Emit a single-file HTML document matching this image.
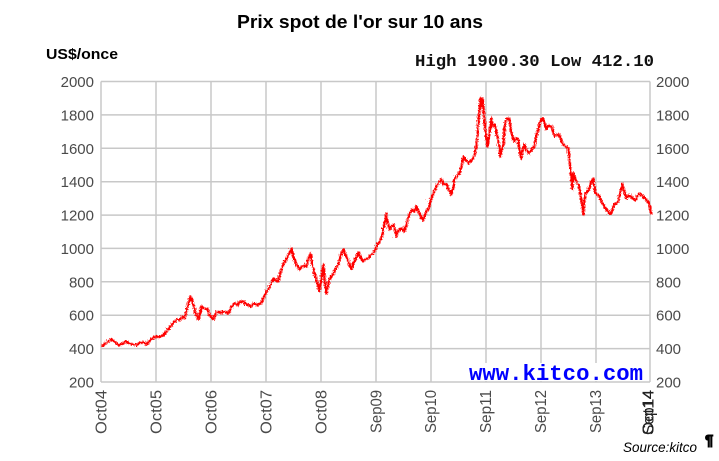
<!DOCTYPE html>
<html><head><meta charset="utf-8"><style>
html,body{margin:0;padding:0;background:#fff;}
svg{display:block;}
</style></head><body>
<svg width="719" height="461" viewBox="0 0 719 461" xmlns="http://www.w3.org/2000/svg">
<defs>
<filter id="jit" x="-5%" y="-10%" width="110%" height="120%">
<feTurbulence type="turbulence" baseFrequency="0.9 0.4" numOctaves="1" seed="3" result="n"/>
<feDisplacementMap in="SourceGraphic" in2="n" scale="4" xChannelSelector="R" yChannelSelector="G"/>
</filter>
</defs>
<rect width="719" height="461" fill="#fff"/>
<text x="237" y="28" font-family="Liberation Sans, Arial, sans-serif" font-weight="bold" font-size="18" textLength="246" lengthAdjust="spacingAndGlyphs" fill="#000">Prix spot de l'or sur 10 ans</text>
<text x="46" y="59" font-family="Liberation Sans, Arial, sans-serif" font-weight="bold" font-size="15" textLength="72" lengthAdjust="spacingAndGlyphs" fill="#000">US$/once</text>
<text x="415" y="66" font-family="Liberation Mono, monospace" font-weight="bold" font-size="17" textLength="239" lengthAdjust="spacingAndGlyphs" fill="#111">High 1900.30 Low 412.10</text>
<g stroke="#c8c8c8" stroke-width="1.5" fill="none">
<line x1="101" y1="81.5" x2="650" y2="81.5"/>
<line x1="101" y1="114.9" x2="650" y2="114.9"/>
<line x1="101" y1="148.3" x2="650" y2="148.3"/>
<line x1="101" y1="181.7" x2="650" y2="181.7"/>
<line x1="101" y1="215.1" x2="650" y2="215.1"/>
<line x1="101" y1="248.4" x2="650" y2="248.4"/>
<line x1="101" y1="281.8" x2="650" y2="281.8"/>
<line x1="101" y1="315.2" x2="650" y2="315.2"/>
<line x1="101" y1="348.6" x2="650" y2="348.6"/>
<line x1="101" y1="382" x2="650" y2="382"/>
<line x1="101" y1="81.5" x2="101" y2="382"/>
<line x1="156" y1="81.5" x2="156" y2="382"/>
<line x1="211" y1="81.5" x2="211" y2="382"/>
<line x1="266" y1="81.5" x2="266" y2="382"/>
<line x1="321" y1="81.5" x2="321" y2="382"/>
<line x1="376" y1="81.5" x2="376" y2="382"/>
<line x1="431" y1="81.5" x2="431" y2="382"/>
<line x1="486" y1="81.5" x2="486" y2="382"/>
<line x1="541" y1="81.5" x2="541" y2="382"/>
<line x1="596" y1="81.5" x2="596" y2="382"/>
<line x1="650" y1="81.5" x2="650" y2="382"/>
</g>
<g font-family="Liberation Sans, Arial, sans-serif" font-size="15" fill="#4a4a4a">
<g text-anchor="end">
<text x="94" y="87">2000</text>
<text x="94" y="120.4">1800</text>
<text x="94" y="153.8">1600</text>
<text x="94" y="187.2">1400</text>
<text x="94" y="220.6">1200</text>
<text x="94" y="253.9">1000</text>
<text x="94" y="287.3">800</text>
<text x="94" y="320.7">600</text>
<text x="94" y="354.1">400</text>
<text x="94" y="387.5">200</text>
</g>
<text x="656" y="87">2000</text>
<text x="656" y="120.4">1800</text>
<text x="656" y="153.8">1600</text>
<text x="656" y="187.2">1400</text>
<text x="656" y="220.6">1200</text>
<text x="656" y="253.9">1000</text>
<text x="656" y="287.3">800</text>
<text x="656" y="320.7">600</text>
<text x="656" y="354.1">400</text>
<text x="656" y="387.5">200</text>
</g>
<g font-family="Liberation Sans, Arial, sans-serif" font-size="16" fill="#4a4a4a" text-anchor="end">
<text transform="translate(106.5,390) rotate(-90)" textLength="44" lengthAdjust="spacingAndGlyphs">Oct04</text>
<text transform="translate(161.5,390) rotate(-90)" textLength="44" lengthAdjust="spacingAndGlyphs">Oct05</text>
<text transform="translate(216.5,390) rotate(-90)" textLength="44" lengthAdjust="spacingAndGlyphs">Oct06</text>
<text transform="translate(271.5,390) rotate(-90)" textLength="44" lengthAdjust="spacingAndGlyphs">Oct07</text>
<text transform="translate(326.5,390) rotate(-90)" textLength="44" lengthAdjust="spacingAndGlyphs">Oct08</text>
<text transform="translate(381.5,390) rotate(-90)" textLength="43" lengthAdjust="spacingAndGlyphs">Sep09</text>
<text transform="translate(436,390) rotate(-90)" textLength="43" lengthAdjust="spacingAndGlyphs">Sep10</text>
<text transform="translate(491,390) rotate(-90)" textLength="43" lengthAdjust="spacingAndGlyphs">Sep11</text>
<text transform="translate(546,390) rotate(-90)" textLength="43" lengthAdjust="spacingAndGlyphs">Sep12</text>
<text transform="translate(601,390) rotate(-90)" textLength="43" lengthAdjust="spacingAndGlyphs">Sep13</text>
<text transform="translate(653.5,390) rotate(-90)" textLength="45" lengthAdjust="spacingAndGlyphs" fill="#222">Oct14</text>
<text transform="translate(653.5,390) rotate(-90)" textLength="45" lengthAdjust="spacingAndGlyphs" fill="#222">Sep14</text>
</g>
<g filter="url(#jit)">
<polyline fill="none" stroke="#ff0000" stroke-width="2.4" stroke-linejoin="round" points="
100,345 103,343 106,341 110,338 113,340 116,343 118,344 121,342 125,340 128,342 131,343 135,344 138,341 142,341 145,343 148,340 150,338 153,336 156,335 158,336 161,334 163,333 165,330 167,328 170,324 172,321 174,320 176,318 178,319 181,316 183,317 185,310 187,303 189,295 191,300 193,307 195,314 197,318 199,310 200,305 203,307 206,308 208,313 210,316 212,318 214,313 217,310 220,312 223,310 227,312 230,306 233,302 236,304 238,301 242,300 245,303 248,304 250,305 253,302 256,304 258,303 260,302
263,294 267,288 270,282 272,277 275,279 277,280 279,272 282,263 285,258 288,252 290,247 292,255 295,263 298,268 301,265 305,265 307,258 309,252 311,263 313,272 315,278 317,285 318,290 320,278 322,263 323,275 325,292 327,285 328,278 330,275 332,273 334,268 337,263 339,255 342,248 344,253 347,260 350,268 352,262 355,255 357,251 359,256 362,260 364,258 367,257 369,254 372,252 374,248 375,245 378,240 380,237 382,228 384,218 385,212 386,220 388,228 390,225 392,223 394,230 395,235 397,230 400,227 403,230 405,224 408,212 411,208 413,210 415,205 417,210 420,216 422,219
424,212 427,207 429,200 432,192 435,185 437,182 440,178 442,183 445,183 447,187 450,193 452,186 453,178 456,174 458,172 460,165 462,155 464,158 467,162 469,160 472,157 474,150 475,145 477,122 478,110 479,97 480,105 481,97 482,105 483,117 484,130 486,145 487,140 488,133 490,117 491,125 493,123 494,125 496,135 498,145 499,155 500,150 502,143 503,130 504,120 506,118 508,117 509,125 511,135 513,140 515,137 517,139 518,148 520,157 521,150 523,143 525,148 528,152 531,147 533,145 535,135 537,128 539,120 541,117 543,121 545,128 547,124 550,125 552,130 553,135 556,133 558,134 560,140 562,143 564,145 567,147 568,158 570,175 571,188 572,172 574,178 575,180 577,183 578,185 580,200 582,213 583,200 584,192 586,190 588,187 590,180 592,177 593,185 594,192 596,193 598,195 600,200 602,203 604,207 605,208 607,211 609,213 611,208 613,203 615,202 617,200 619,190 621,183 623,190 625,197 627,194 630,195 632,198 634,199 636,195 638,192 640,193 643,197 645,198 647,201 649,207 650,213"/>
</g>
<rect x="466" y="363" width="183" height="18" fill="#fff"/>
<text x="469" y="380" font-family="Liberation Mono, monospace" font-weight="bold" font-size="22" textLength="174" lengthAdjust="spacingAndGlyphs" fill="#0000ff">www.kitco.com</text>
<text x="623" y="452" font-family="Liberation Sans, Arial, sans-serif" font-style="italic" font-size="13.5" textLength="74" lengthAdjust="spacingAndGlyphs" fill="#000">Source:kitco</text>
<text x="705" y="445" font-family="Liberation Sans, Arial, sans-serif" font-weight="bold" font-size="15" stroke="#000" stroke-width="1" fill="#000">¶</text>
</svg>
</body></html>
